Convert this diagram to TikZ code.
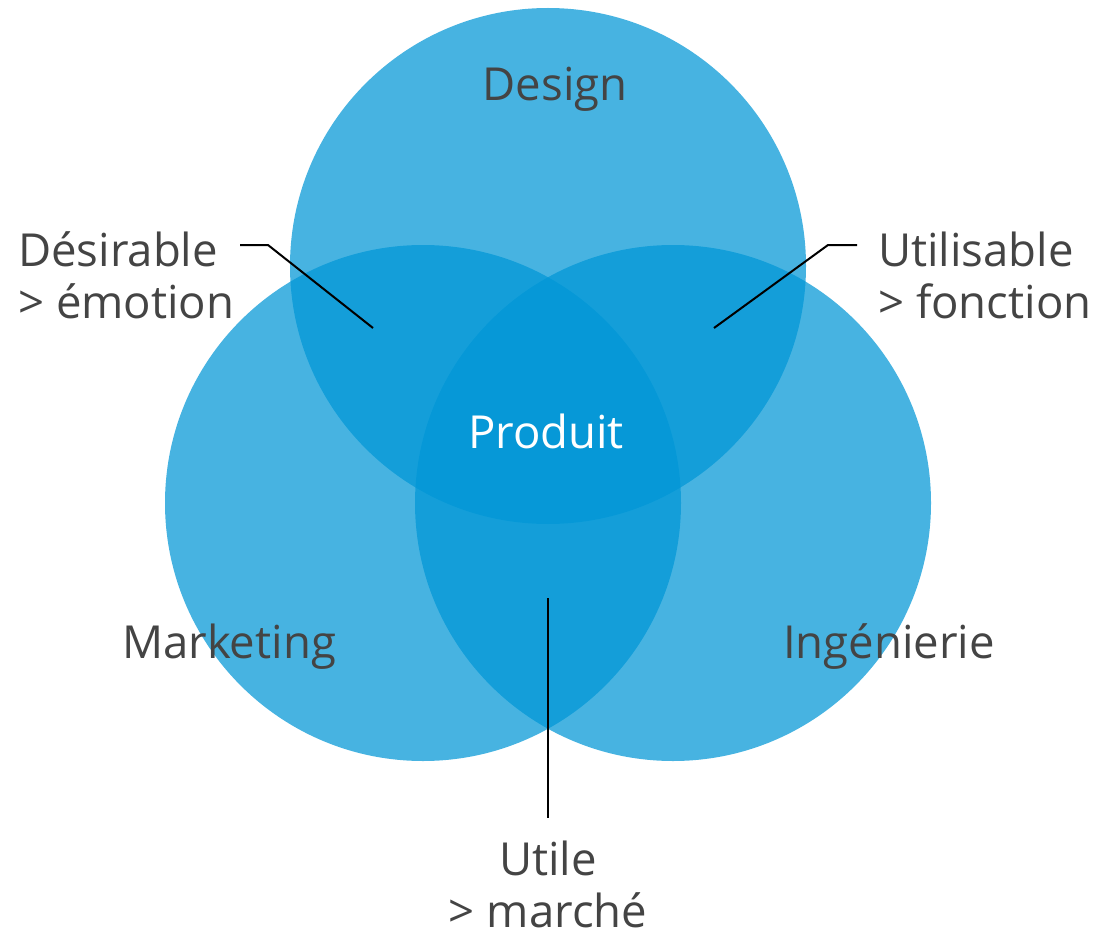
\documentclass[tikz,border=0pt]{standalone}
\usepackage{fontspec}
\setmainfont{Open Sans}
\definecolor{vblue}{RGB}{0,150,214}
\definecolor{txtgray}{RGB}{68,68,68}
\begin{document}
\begin{tikzpicture}[x=1pt,y=-1pt,
  venn/.style={fill=vblue,fill opacity=0.72,draw=none},
  lbl/.style={text=txtgray,font=\fontsize{45.5}{52}\selectfont,inner sep=0pt},
  leader/.style={draw=black,line width=2pt}]
\useasboundingbox (0,0) rectangle (1106,939);
\fill[venn] (548,266) circle (258);
\fill[venn] (423,503) circle (258);
\fill[venn] (673,503) circle (258);
\node[lbl] (design) at (555,89) {Design};
\node[lbl,text=white] (produit) at (546,431) {Produit};
\node[lbl] (marketing) at (229,647) {Marketing};
\node[lbl] (inge) at (889,647) {Ingénierie};
\node[lbl,align=left,anchor=west] (desir) at (18,275) {Désirable\\> émotion};
\node[lbl,align=left,anchor=west] (utilis) at (878,275) {Utilisable\\> fonction};
\node[lbl,align=center,anchor=north] (utile) at (548,841) {Utile\\> marché};
\coordinate (d1) at (240,245);
\coordinate (d2) at (268,245);
\coordinate (d3) at (373,328);
\coordinate (u1) at (857,245);
\coordinate (u2) at (828,245);
\coordinate (u3) at (714,328);
\coordinate (m1) at (548,598);
\coordinate (m2) at (548,818);
\draw[leader] (d1) -- (d2) -- (d3);
\draw[leader] (u1) -- (u2) -- (u3);
\draw[leader] (m1) -- (m2);
\end{tikzpicture}
\end{document}
